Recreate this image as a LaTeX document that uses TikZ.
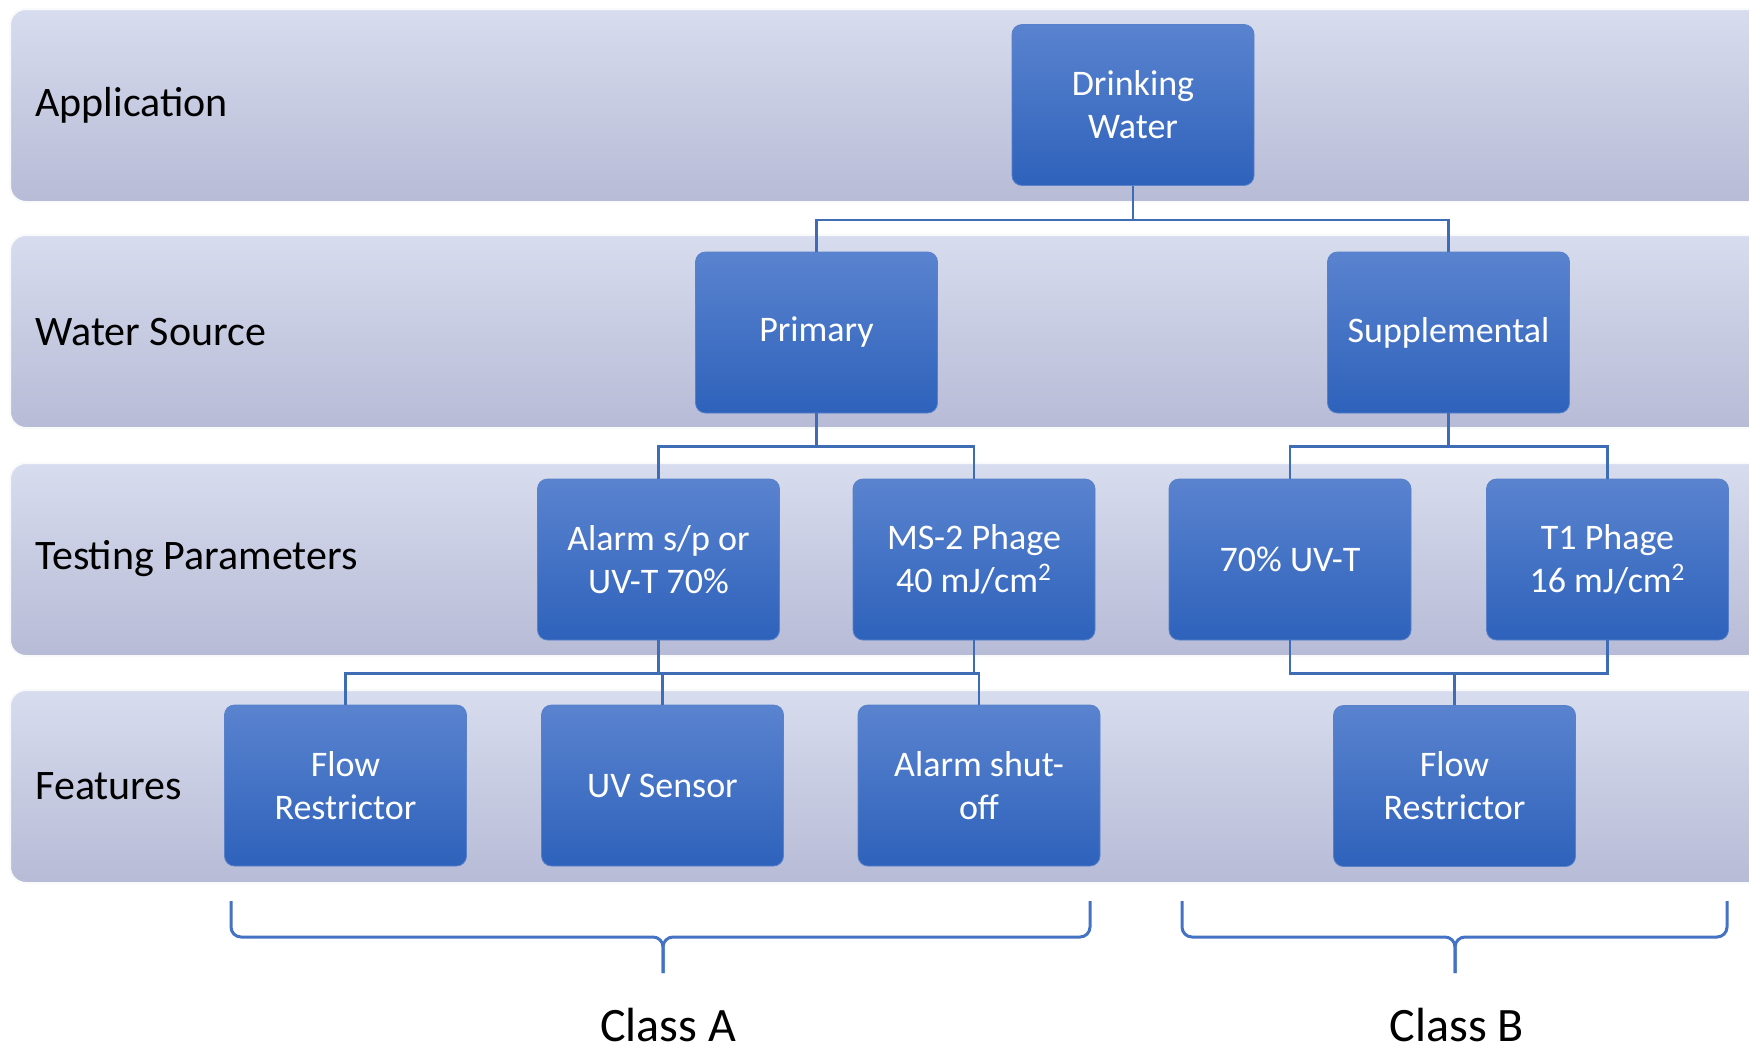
\documentclass[tikz,border=0pt]{standalone}
\usepackage{fontspec}
\setmainfont{Carlito}
\usetikzlibrary{positioning}
\definecolor{bandtop}{RGB}{215,220,238}
\definecolor{bandbot}{RGB}{183,187,214}
\definecolor{boxtop}{RGB}{90,131,207}
\definecolor{boxbot}{RGB}{46,98,187}
\definecolor{linkblue}{RGB}{62,109,181}
\definecolor{bracecol}{RGB}{68,114,196}
\begin{document}
\begin{tikzpicture}[x=0.5pt,y=-0.5pt,
	link/.style={draw=linkblue,line width=1.4pt},
	brace/.style={draw=bracecol,line width=1.5pt,rounded corners=5pt}]
	\tikzstyle{box}=[rectangle,rounded corners=5pt,minimum width=121pt,minimum height=80.5pt,
	  top color=boxtop,bottom color=boxbot,draw=boxbot!80!white,text=white,align=center,
	  font=\fontsize{18}{21.5}\selectfont]
	\tikzstyle{tier}=[anchor=west,inner sep=0pt,font=\fontsize{21}{25}\selectfont]
	\tikzstyle{band}=[rounded corners=8pt,top color=bandtop,bottom color=bandbot,
	  draw=white!85!bandtop,line width=1pt]
	\tikzstyle{classlbl}=[anchor=base,inner sep=0pt,font=\fontsize{24}{28}\selectfont]

	  \useasboundingbox (0,0) rectangle (1749,1055);
	  \clip (0,0) rectangle (1749,1055);
	  \fill[white] (0,0) rectangle (1749,1055);
	  \foreach \y in {9,235,463,690}
	    \path[band] (10,\y) rectangle (1780,\y+193);

	  % tier labels
	  \node[tier] (lapp) at (35,105) {Application};
	  \node[tier] (lsrc) at (35,332) {Water Source};
	  \node[tier] (lpar) at (35,559) {Testing Parameters};
	  \node[tier] (lfea) at (35,786) {Features};

	  \node[box] (drink)   at (1133,105)   {Drinking\\Water};
	  \node[box] (primary) at (816.5,332.5) {Primary};
	  \node[box] (suppl)   at (1448.5,332.5) {Supplemental};
	  \node[box] (alarm)   at (658.5,559.5) {Alarm s/p or\\UV-T 70\%};
	  \node[box] (ms2)     at (974,559.5)   {MS-2 Phage\\40 mJ/cm\textsuperscript{2}};
	  \node[box] (uvt)     at (1290,559.5)  {70\% UV-T};
	  \node[box] (tone)    at (1607.5,559.5) {T1 Phage\\16 mJ/cm\textsuperscript{2}};
	  \node[box] (flowA)   at (345.5,785.5) {Flow\\Restrictor};
	  \node[box] (sensor)  at (662.5,785.5) {UV Sensor};
	  \node[box] (shutoff) at (979,785.5)   {Alarm shut-\\off};
	  \node[box] (flowB)   at (1454.5,786)  {Flow\\Restrictor};

	  \draw[link] (drink.south) -- ++(0,34) -| (primary.north);
	  \draw[link] (drink.south) -- ++(0,34) -| (suppl.north);
	  \draw[link] (primary.south) -- ++(0,33) -| (alarm.north);
	  \draw[link] (primary.south) -- ++(0,33) -| (ms2.north);
	  \draw[link] (suppl.south) -- ++(0,33) -| (uvt.north);
	  \draw[link] (suppl.south) -- ++(0,33) -| (tone.north);
	  \foreach \f in {flowA,sensor,shutoff}{
	    \draw[link] (alarm.south) -- ++(0,33) -| (\f.north);
	    \draw[link] (ms2.south) -- ++(0,33) -| (\f.north);
	  }
	  \draw[link] (uvt.south) -- ++(0,33) -| (flowB.north);
	  \draw[link] (tone.south) -- ++(0,33) -| (flowB.north);

	  % braces
	  \coordinate (aL) at (231,901);
	  \coordinate (aR) at (1090,901);
	  \coordinate (aTip) at (663,973);
	  \coordinate (bL) at (1182,901);
	  \coordinate (bR) at (1727,901);
	  \coordinate (bTip) at (1455,973);
	  \draw[brace] (aL) -- ++(0,36) -| (aTip);
	  \draw[brace] (aR) -- ++(0,36) -| (aTip);
	  \draw[brace] (bL) -- ++(0,36) -| (bTip);
	  \draw[brace] (bR) -- ++(0,36) -| (bTip);

	  \node[classlbl] (clsA) at (668,1041) {Class A};
	  \node[classlbl] (clsB) at (1457,1041) {Class B};
\end{tikzpicture}
\end{document}
